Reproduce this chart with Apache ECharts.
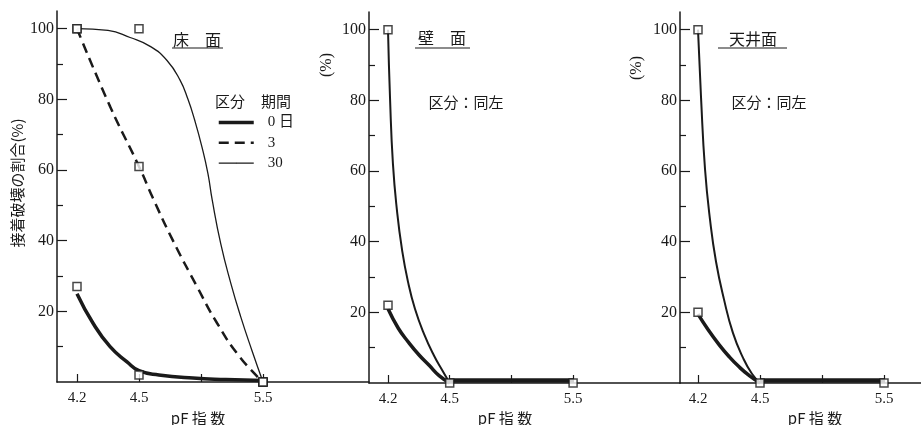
<!DOCTYPE html>
<html>
<head>
<meta charset="utf-8">
<script src="https://cdn.jsdelivr.net/npm/echarts@6/dist/echarts.min.js"></script>
<style>
  html, body { margin: 0; padding: 0; background: #fff; }
  #main { width: 921px; height: 425px; }
</style>
</head>
<body>
<div id="main"></div>
<script>
// 軸の目盛
const pfTickValues = [4.2, 4.5, 5.0, 5.5]
const pfTickLabels = ['4.2', '4.5', '', '5.5']
const yTickValues = [20, 40, 60, 80, 100]
const yMinorValues = [10, 30, 50, 70, 90]
const legendNames = ['0 日', '3', '30']

// 床面 測定点
const floorMarks0 = [[4.2, 27], [4.5, 2], [5.5, 0]]
const floorMarks3 = [[4.2, 100], [4.5, 61], [5.5, 0]]
const floorMarks30 = [[4.2, 100], [4.5, 100], [5.5, 0]]
// 床面 曲線
const floorCurve0 = [[4.2, 25], [4.277, 16.7], [4.36, 10], [4.442, 5.7], [4.5, 3.2], [4.66, 2], [4.935, 1.1], [5.2, 0.7], [5.5, 0.4]]
const floorCurve3 = [[4.2, 100], [4.36, 78], [4.5, 61], [4.613, 52], [4.774, 40], [4.968, 27], [5.129, 16.7], [5.315, 7], [5.5, 0]]
const floorCurve30 = [[4.2, 100], [4.35, 99.5], [4.457, 97.5], [4.59, 95], [4.726, 91], [4.83, 85.5], [4.895, 80], [4.95, 74], [5.008, 66.5], [5.056, 59], [5.09, 51.6], [5.16, 39], [5.24, 28], [5.32, 18.5], [5.41, 9], [5.5, 0]]

// 壁面
const wallMarks0 = [[4.2, 22], [4.5, 0], [5.5, 0]]
const wallMarks30 = [[4.2, 100]]
const wallCurve0 = [[4.2, 21], [4.25, 15.5], [4.3, 11.5], [4.35, 8], [4.4, 5], [4.45, 2], [4.5, 0]]
const wallCurve30 = [[4.2, 100], [4.21, 80.4], [4.224, 62], [4.244, 48.6], [4.268, 37.8], [4.297, 28.7], [4.331, 21], [4.375, 13.9], [4.424, 7.7], [4.463, 3.7], [4.5, 0]]
const wallBand = [[4.5, 0.7], [5.5, 0.7]]

// 天井面
const ceilMarks0 = [[4.2, 20], [4.5, 0], [5.5, 0]]
const ceilMarks30 = [[4.2, 100]]
const ceilCurve0 = [[4.2, 19.5], [4.25, 15], [4.3, 11], [4.35, 7.5], [4.4, 4.5], [4.45, 2], [4.5, 0]]
const ceilCurve30 = [[4.2, 100], [4.215, 80.4], [4.234, 60.5], [4.258, 46.3], [4.287, 34.4], [4.326, 23.6], [4.369, 14.2], [4.418, 7.1], [4.461, 2.6], [4.5, 0]]
const ceilBand = [[4.5, 0.7], [5.5, 0.7]]

const ink = '#1a1a1a'
const serif = '"Liberation Serif", "DejaVu Serif", "Noto Sans CJK JP", serif'
const cjk = '"Noto Sans CJK JP", sans-serif'

// pF → 軸上の位置（4.2～4.5 と 4.5～5.0 が同じ幅）
function pos(pf) {
  return pf <= 4.5 ? (pf - 4.2) / 0.3 : 1 + (pf - 4.5) / 0.5
}
function toPos(list) {
  return list.map(d => [pos(d[0]), d[1]])
}

// 3つのパネルの配置
const panels = [
  { left: 57, right: 369, zero: 77, step: 62, top: 11, bottom: 43 },
  { left: 369, right: 680, zero: 388, step: 61.7, top: 12, bottom: 42 },
  { left: 680, right: 921, zero: 698, step: 62, top: 12, bottom: 42 }
]

const grid = panels.map(p => ({
  left: p.left, top: p.top, width: p.right - p.left, bottom: p.bottom
}))

const xAxis = panels.map((p, i) => ({
  type: 'value',
  gridIndex: i,
  min: (p.left - p.zero) / p.step,
  max: (p.right - p.zero) / p.step,
  axisLine: { onZero: false, lineStyle: { color: ink, width: 1.5 } },
  axisTick: {
    inside: true,
    length: 8,
    customValues: pfTickValues.map(pos),
    lineStyle: { color: ink, width: 1.2 }
  },
  axisLabel: {
    customValues: pfTickValues.map(pos),
    formatter: function(v) {
      const k = pfTickValues.findIndex(t => Math.abs(pos(t) - v) < 1e-6)
      return k >= 0 ? pfTickLabels[k] : ''
    },
    margin: 9,
    color: ink,
    fontFamily: serif,
    fontSize: 15
  },
  splitLine: { show: false }
}))

const yAxis = []
panels.forEach((p, i) => {
  // 主目盛
  yAxis.push({
    type: 'value',
    gridIndex: i,
    position: 'left',
    min: 0,
    max: 105,
    axisLine: { show: true, onZero: false, lineStyle: { color: ink, width: 1.5 } },
    axisTick: {
      inside: true,
      length: 10,
      customValues: yTickValues,
      lineStyle: { color: ink, width: 1.2 }
    },
    axisLabel: {
      customValues: yTickValues,
      margin: 3,
      color: ink,
      fontFamily: serif,
      fontSize: 16
    },
    splitLine: { show: false }
  })
  // 補助目盛
  yAxis.push({
    type: 'value',
    gridIndex: i,
    position: 'left',
    offset: 0,
    min: 0,
    max: 105,
    axisLine: { show: false, onZero: false },
    axisTick: {
      inside: true,
      length: 6,
      customValues: yMinorValues,
      lineStyle: { color: ink, width: 1.2 }
    },
    axisLabel: { show: false },
    splitLine: { show: false }
  })
})

const styles = {
  thick: { color: ink, width: 3.5 },
  dashed: { color: ink, width: 2.5, type: [10, 6] },
  thin: { color: ink, width: 1.3 },
  medium: { color: ink, width: 2 },
  band: { color: ink, width: 4.5 }
}

function curve(name, i, data, lineStyle, smooth) {
  return {
    name: name,
    type: 'line',
    xAxisIndex: i,
    yAxisIndex: i * 2,
    data: toPos(data),
    symbol: 'circle',
    symbolSize: 0.1,
    showSymbol: false,
    smooth: smooth === false ? false : 0.5,
    lineStyle: lineStyle,
    itemStyle: { color: ink },
    z: 2,
    silent: true
  }
}
function marks(i, data) {
  return {
    type: 'scatter',
    xAxisIndex: i,
    yAxisIndex: i * 2,
    data: toPos(data),
    symbol: 'rect',
    symbolSize: 8,
    itemStyle: { color: '#fff', borderColor: ink, borderWidth: 1.5 },
    z: 5,
    silent: true
  }
}

const series = [
  curve('0 日', 0, floorCurve0, styles.thick),
  curve('3', 0, floorCurve3, styles.dashed),
  curve('30', 0, floorCurve30, styles.thin),
  marks(0, floorMarks0),
  marks(0, floorMarks3),
  marks(0, floorMarks30),

  curve('0 日', 1, wallCurve0, styles.thick),
  curve('30', 1, wallCurve30, styles.medium),
  curve('0 日', 1, wallBand, styles.band, false),
  marks(1, wallMarks0),
  marks(1, wallMarks30),

  curve('0 日', 2, ceilCurve0, styles.thick),
  curve('30', 2, ceilCurve30, styles.medium),
  curve('0 日', 2, ceilBand, styles.band, false),
  marks(2, ceilMarks0),
  marks(2, ceilMarks30)
]

function label(text, x, y, font, rotation) {
  return {
    type: 'text',
    x: x,
    y: y,
    rotation: rotation || 0,
    silent: true,
    style: {
      text: text,
      font: font,
      fill: ink,
      textAlign: 'center',
      textVerticalAlign: 'middle'
    }
  }
}
function underline(x1, x2, y) {
  return {
    type: 'line',
    silent: true,
    shape: { x1: x1, y1: y, x2: x2, y2: y },
    style: { stroke: ink, lineWidth: 1.2 }
  }
}

const graphic = [
  label('床　面', 197, 40, '16px ' + cjk),
  underline(172, 223, 48),
  label('壁　面', 442, 38, '16px ' + cjk),
  underline(415, 470, 48),
  label('天井面', 753, 39, '16px ' + cjk),
  underline(718, 787, 48),

  label('区分', 230, 101, '15px ' + cjk),
  label('期間', 276, 101, '15px ' + cjk),
  label('区分：同左', 466, 102, '15px ' + cjk),
  label('区分：同左', 769, 102, '15px ' + cjk),

  label('接着破壊の割合(%)', 17, 183, '15px ' + cjk, Math.PI / 2),
  label('(%)', 327, 65, '16px ' + serif, Math.PI / 2),
  label('(%)', 637, 68, '16px ' + serif, Math.PI / 2),

  label('pF 指 数', 198, 418, '15px ' + cjk),
  label('pF 指 数', 505, 418, '15px ' + cjk),
  label('pF 指 数', 815, 418, '15px ' + cjk)
]

const chart = echarts.init(document.getElementById('main'))
chart.setOption({
  animation: false,
  backgroundColor: '#fff',
  grid: grid,
  xAxis: xAxis,
  yAxis: yAxis,
  legend: {
    data: [
      { name: legendNames[0], lineStyle: { width: 3.5 } },
      { name: legendNames[1], lineStyle: { width: 2.5 } },
      { name: legendNames[2], lineStyle: { width: 1.3 } }
    ],
    orient: 'vertical',
    left: 212,
    top: 110,
    itemWidth: 35,
    itemHeight: 1,
    itemGap: 5.3,
    selectedMode: false,
    textStyle: { color: ink, fontFamily: serif, fontSize: 15, padding: [0, 0, 0, 9] }
  },
  graphic: graphic,
  series: series
})
</script>
</body>
</html>
